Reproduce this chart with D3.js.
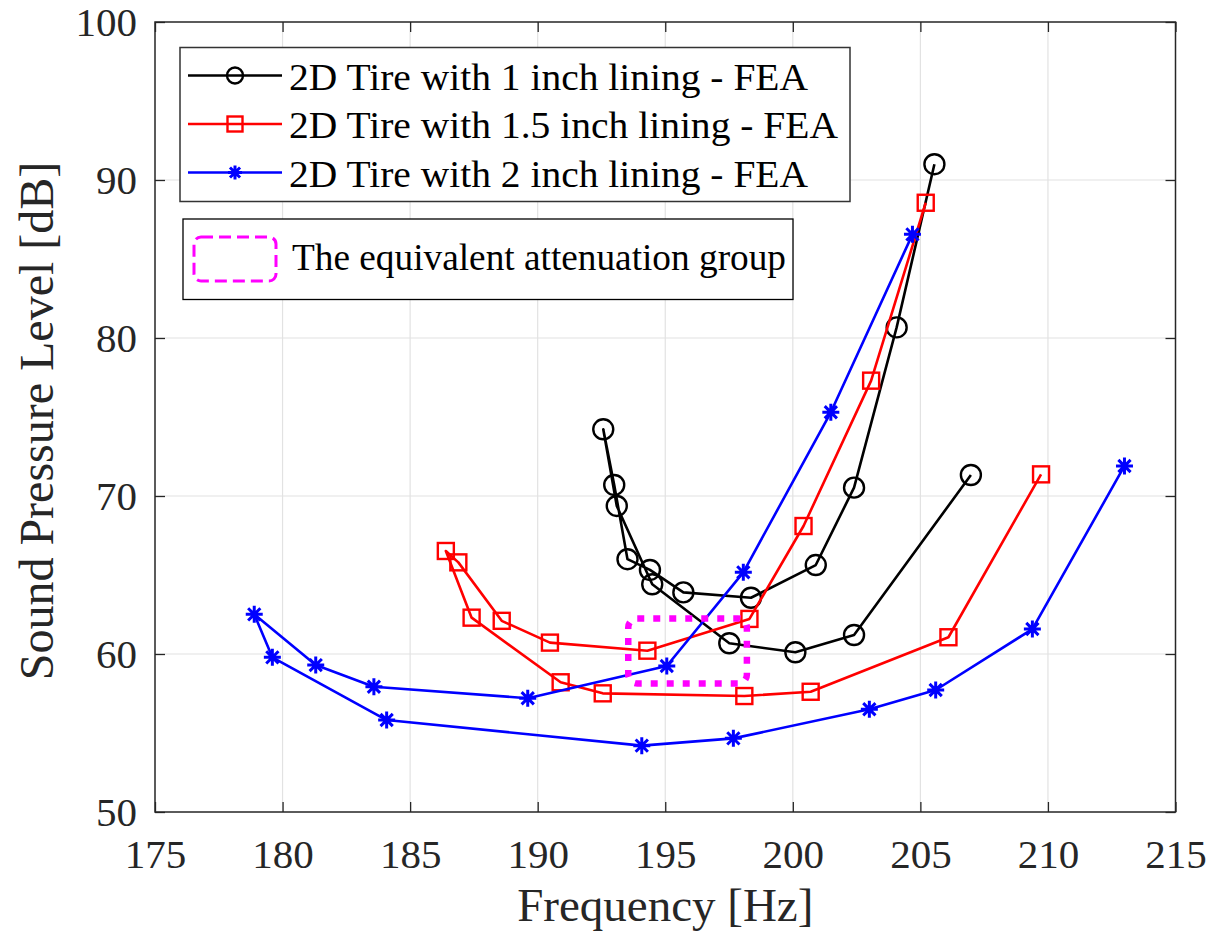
<!DOCTYPE html>
<html>
<head>
<meta charset="utf-8">
<script src="https://cdn.jsdelivr.net/npm/d3@7"></script>
<style>
  html, body { margin: 0; padding: 0; background: #ffffff; }
  svg { display: block; }
  text { font-family: "Liberation Serif", "Times New Roman", serif; }
</style>
</head>
<body>
<svg id="chart" width="1210" height="934"></svg>
<script>
// Frequency response for each lining thickness (FEA), in path order
const freq1in  = [206.98, 202.40, 200.10, 197.51, 194.49, 193.10, 192.57, 193.00, 193.52, 194.40, 195.71, 198.36, 200.90, 202.40, 204.07, 205.55];
const spl1in   = [71.33, 61.20, 60.11, 60.68, 64.41, 69.37, 74.22, 70.70, 66.00, 65.32, 63.90, 63.56, 65.63, 70.53, 80.67, 91.00];

const freq15in = [209.73, 206.10, 200.70, 198.10, 192.55, 190.90, 187.41, 186.40, 186.89, 188.59, 190.48, 194.30, 198.30, 200.42, 203.07, 205.21];
const spl15in  = [71.37, 61.06, 57.61, 57.34, 57.51, 58.21, 62.30, 66.52, 65.80, 62.10, 60.72, 60.21, 62.22, 68.10, 77.30, 88.56];

const freq2in  = [213.00, 209.39, 205.60, 203.00, 197.67, 194.08, 184.08, 179.60, 178.89, 181.30, 183.58, 189.61, 195.06, 198.06, 201.49, 204.69];
const spl2in   = [71.90, 61.58, 57.72, 56.50, 54.66, 54.20, 55.82, 59.79, 62.51, 59.30, 57.93, 57.20, 59.24, 65.17, 75.30, 86.56];

// Equivalent attenuation group: frequency span and level span
const groupFreq = [193.55, 198.2];
const groupSpl  = [58.13, 62.25];

const xTicks = [175, 180, 185, 190, 195, 200, 205, 210, 215];
const yTicks = [50, 60, 70, 80, 90, 100];

const seriesNames  = ["2D Tire with 1 inch lining - FEA", "2D Tire with 1.5 inch lining - FEA", "2D Tire with 2 inch lining - FEA"];
const seriesColors = ["#000000", "#ff0000", "#0000ff"];
const seriesMarks  = ["circle", "square", "asterisk"];
const groupLabel   = "The equivalent attenuation group";

const svg = d3.select("#chart");
const plotL = 155, plotR = 1175.5, plotT = 22, plotB = 812;
const W = plotR - plotL, H = plotB - plotT;
const axisColor = "#262626";

const x = d3.scaleLinear().domain([175, 215]).range([plotL, plotR]);
const y = d3.scaleLinear().domain([50, 100]).range([plotB, plotT]);

// grid
const grid = svg.append("g").attr("stroke", "#e2e2e2").attr("stroke-width", 1.2);
grid.selectAll(".gx").data(xTicks.slice(1, -1)).join("line")
  .attr("x1", d => x(d)).attr("x2", d => x(d)).attr("y1", plotT).attr("y2", plotB);
grid.selectAll(".gy").data(yTicks.slice(1, -1)).join("line")
  .attr("y1", d => y(d)).attr("y2", d => y(d)).attr("x1", plotL).attr("x2", plotR);

// axes (ticks point inward)
function styleAxis(g) {
  g.select(".domain").remove();
  g.selectAll(".tick line").attr("stroke", axisColor).attr("stroke-width", 1.3);
  g.selectAll(".tick text").attr("fill", axisColor).attr("font-size", 41)
    .attr("font-family", "Liberation Serif, Times New Roman, serif");
}
svg.append("g").attr("transform", `translate(0,${plotB})`)
  .call(d3.axisBottom(x).tickValues(xTicks).tickSize(-10).tickPadding(27).tickFormat(d3.format("d")))
  .call(styleAxis);
svg.append("g").attr("transform", `translate(0,${plotT})`)
  .call(d3.axisTop(x).tickValues(xTicks).tickSize(-10).tickFormat(""))
  .call(styleAxis);
svg.append("g").attr("transform", `translate(${plotL},0)`)
  .call(d3.axisLeft(y).tickValues(yTicks).tickSize(-10).tickPadding(18).tickFormat(d3.format("d")))
  .call(styleAxis);
svg.append("g").attr("transform", `translate(${plotR},0)`)
  .call(d3.axisRight(y).tickValues(yTicks).tickSize(-10).tickFormat(""))
  .call(styleAxis);

svg.append("rect").attr("x", plotL).attr("y", plotT).attr("width", W).attr("height", H)
  .attr("fill", "none").attr("stroke", axisColor).attr("stroke-width", 1.5);

// axis titles
svg.append("text").attr("x", (plotL + plotR) / 2).attr("y", 921)
  .attr("text-anchor", "middle").attr("font-size", 47).attr("fill", axisColor)
  .text("Frequency [Hz]");
svg.append("text").attr("transform", `translate(53,${(plotT + plotB) / 2 + 4}) rotate(-90)`)
  .attr("text-anchor", "middle").attr("font-size", 48).attr("fill", axisColor)
  .text("Sound Pressure Level [dB]");

// marker drawing
function drawMarker(g, type, color, size) {
  if (type === "circle") {
    g.append("circle").attr("r", size).attr("fill", "none")
      .attr("stroke", color).attr("stroke-width", 2.4);
  } else if (type === "square") {
    g.append("rect").attr("x", -size).attr("y", -size)
      .attr("width", 2 * size).attr("height", 2 * size)
      .attr("fill", "none").attr("stroke", color).attr("stroke-width", 2.4);
  } else {
    const s = size, d = size * 0.72;
    const p = `M${-s},0L${s},0M0,${-s}L0,${s}M${-d},${-d}L${d},${d}M${-d},${d}L${d},${-d}`;
    g.append("path").attr("d", p).attr("stroke", color).attr("stroke-width", 3)
      .attr("fill", "none");
  }
}

const series = [
  { f: freq1in,  s: spl1in },
  { f: freq15in, s: spl15in },
  { f: freq2in,  s: spl2in }
];
const line = d3.line().x(d => x(d[0])).y(d => y(d[1]));
const plotSizes = { circle: 10, square: 8, asterisk: 8.5 };

series.forEach((sr, i) => {
  const pts = sr.f.map((f, k) => [f, sr.s[k]]);
  svg.append("path").datum(pts).attr("d", line)
    .attr("fill", "none").attr("stroke", seriesColors[i]).attr("stroke-width", 2.6)
    .attr("stroke-linejoin", "round");
  const mk = svg.append("g");
  pts.forEach(p => {
    const g = mk.append("g").attr("transform", `translate(${x(p[0])},${y(p[1])})`);
    drawMarker(g, seriesMarks[i], seriesColors[i], plotSizes[seriesMarks[i]]);
  });
});

// attenuation group outline
svg.append("rect")
  .attr("x", x(groupFreq[0])).attr("y", y(groupSpl[1]))
  .attr("width", x(groupFreq[1]) - x(groupFreq[0]))
  .attr("height", y(groupSpl[0]) - y(groupSpl[1]))
  .attr("rx", 9).attr("ry", 9)
  .attr("fill", "none").attr("stroke", "#ff00ff").attr("stroke-width", 6.5)
  .attr("stroke-dasharray", "7,9");

// legend: series
const leg = svg.append("g");
leg.append("rect").attr("x", 180).attr("y", 47.5).attr("width", 670).attr("height", 154)
  .attr("fill", "#ffffff").attr("stroke", "#333333").attr("stroke-width", 1.5);
const legRowY = [75.5, 124, 172.5];
const legWidths = [519, 549, 519];
const legSizes = { circle: 8, square: 7.5, asterisk: 7 };
seriesNames.forEach((name, i) => {
  const yy = legRowY[i];
  leg.append("line").attr("x1", 188).attr("x2", 282).attr("y1", yy).attr("y2", yy)
    .attr("stroke", seriesColors[i]).attr("stroke-width", 2.6);
  const g = leg.append("g").attr("transform", `translate(235,${yy})`);
  drawMarker(g, seriesMarks[i], seriesColors[i], legSizes[seriesMarks[i]]);
  leg.append("text").attr("x", 289).attr("y", yy + 14)
    .attr("font-size", 38).attr("fill", "#000000")
    .attr("textLength", legWidths[i]).attr("lengthAdjust", "spacingAndGlyphs")
    .text(name);
});

// legend: attenuation group
const leg2 = svg.append("g");
leg2.append("rect").attr("x", 183).attr("y", 219).attr("width", 610).attr("height", 80.5)
  .attr("fill", "#ffffff").attr("stroke", "#000000").attr("stroke-width", 1.3);
leg2.append("rect").attr("x", 194).attr("y", 237).attr("width", 82).attr("height", 44)
  .attr("rx", 7).attr("ry", 7)
  .attr("fill", "none").attr("stroke", "#ff00ff").attr("stroke-width", 3)
  .attr("stroke-dasharray", "12,6");
leg2.append("text").attr("x", 292).attr("y", 270)
  .attr("font-size", 38).attr("fill", "#000000")
  .attr("textLength", 494).attr("lengthAdjust", "spacingAndGlyphs")
  .text(groupLabel);
</script>
</body>
</html>
